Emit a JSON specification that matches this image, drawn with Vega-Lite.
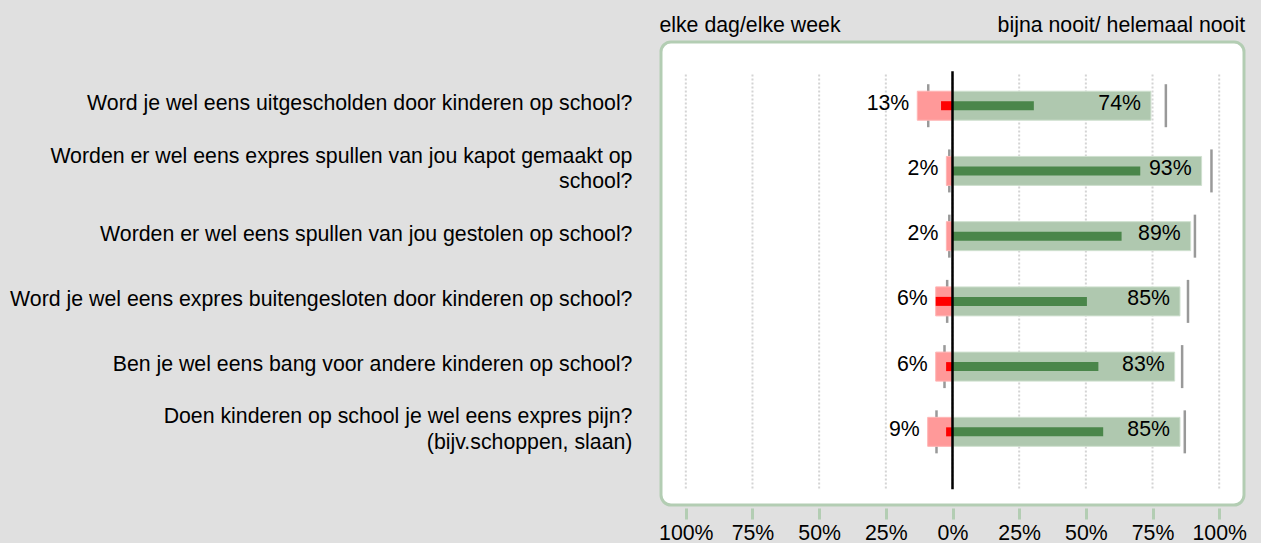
{
  "$schema": "https://vega.github.io/schema/vega-lite/v6.json",
  "autosize": "none",
  "width": 583,
  "height": 463,
  "padding": {"left": 661, "top": 42, "right": 17, "bottom": 38},
  "background": "#e0e0e0",
  "config": {
    "view": {"fill": "white", "stroke": "#b3cdb3", "strokeWidth": 3, "cornerRadius": 10},
    "font": "Liberation Sans",
    "text": {"font": "Liberation Sans", "fontSize": 21.3, "color": "black"},
    "axisY": {"disable": true}
  },
  "datasets": {
    "rows": [
      {"q": "Word je wel eens uitgescholden door kinderen op school?", "row": 1, "neg": -13.2, "pos": 74.4, "red": -4.3, "dark": 30.5, "lt": -9.1, "rt": 80.0, "negLabel": "13%", "posLabel": "74%"},
      {"q": "Worden er wel eens expres spullen van jou kapot gemaakt op\nschool?", "row": 2, "neg": -2.3, "pos": 93.4, "red": 0, "dark": 70.4, "lt": -1.2, "rt": 97.1, "negLabel": "2%", "posLabel": "93%"},
      {"q": "Worden er wel eens spullen van jou gestolen op school?", "row": 3, "neg": -2.3, "pos": 89.3, "red": 0, "dark": 63.4, "lt": -1.2, "rt": 90.9, "negLabel": "2%", "posLabel": "89%"},
      {"q": "Word je wel eens expres buitengesloten door kinderen op school?", "row": 4, "neg": -6.3, "pos": 85.3, "red": -6.3, "dark": 50.4, "lt": -2.0, "rt": 88.3, "negLabel": "6%", "posLabel": "85%"},
      {"q": "Ben je wel eens bang voor andere kinderen op school?", "row": 5, "neg": -6.3, "pos": 83.3, "red": -2.4, "dark": 54.7, "lt": -3.0, "rt": 86.1, "negLabel": "6%", "posLabel": "83%"},
      {"q": "Doen kinderen op school je wel eens expres pijn?\n(bijv.schoppen, slaan)", "row": 6, "neg": -9.3, "pos": 85.3, "red": -2.4, "dark": 56.5, "lt": -6.0, "rt": 87.1, "negLabel": "9%", "posLabel": "85%"}
    ],
    "grid": [{"g": -100}, {"g": -75}, {"g": -50}, {"g": -25}, {"g": 0}, {"g": 25}, {"g": 50}, {"g": 75}, {"g": 100}]
  },
  "layer": [
    {
      "data": {"name": "grid"},
      "mark": {"type": "rule", "color": "#d4d4d4", "strokeWidth": 2, "strokeDash": [2, 2]},
      "encoding": {
        "x": {"field": "g", "type": "quantitative",
              "scale": {"domain": [-109.3, 109.3], "nice": false, "zero": false},
              "axis": {"values": [-100, -75, -50, -25, 0, 25, 50, 75, 100], "title": null, "grid": false, "domain": false,
                       "tickColor": "#b3cdb3", "tickWidth": 3, "tickSize": 11, "offset": 3,
                       "labelFont": "Liberation Sans", "labelFontSize": 21.3, "labelColor": "black", "labelPadding": 3,
                       "labelExpr": "abs(datum.value) + '%'"}},
        "y": {"datum": 0.52, "type": "quantitative",
              "scale": {"domain": [0.1, 7.045], "reverse": true, "nice": false, "zero": false}},
        "y2": {"datum": 6.88}
      }
    },
    {
      "data": {"name": "rows"},
      "mark": {"type": "tick", "orient": "vertical", "color": "#999999", "size": 43, "thickness": 2.5, "opacity": 1},
      "encoding": {
        "x": {"field": "lt", "type": "quantitative", "title": null},
        "y": {"field": "row", "type": "quantitative", "title": null}
      }
    },
    {
      "data": {"name": "rows"},
      "mark": {"type": "tick", "orient": "vertical", "color": "#999999", "size": 43, "thickness": 2.5, "opacity": 1},
      "encoding": {
        "x": {"field": "rt", "type": "quantitative", "title": null},
        "y": {"field": "row", "type": "quantitative", "title": null}
      }
    },
    {
      "data": {"name": "rows"},
      "mark": {"type": "bar", "orient": "horizontal", "color": "#ff9999", "stroke": "#ffb5b5", "strokeWidth": 1, "size": 29},
      "encoding": {
        "x": {"field": "neg", "type": "quantitative", "title": null},
        "x2": {"datum": 0},
        "y": {"field": "row", "type": "quantitative", "title": null}
      }
    },
    {
      "data": {"name": "rows"},
      "mark": {"type": "bar", "orient": "horizontal", "color": "#afc8af", "stroke": "#cfe0cf", "strokeWidth": 1, "size": 29},
      "encoding": {
        "x": {"field": "pos", "type": "quantitative", "title": null},
        "x2": {"datum": 0},
        "y": {"field": "row", "type": "quantitative", "title": null}
      }
    },
    {
      "data": {"name": "rows"},
      "mark": {"type": "bar", "orient": "horizontal", "color": "#ff0000", "size": 9},
      "encoding": {
        "x": {"field": "red", "type": "quantitative", "title": null},
        "x2": {"datum": 0},
        "y": {"field": "row", "type": "quantitative", "title": null}
      }
    },
    {
      "data": {"name": "rows"},
      "mark": {"type": "bar", "orient": "horizontal", "color": "#4a864a", "size": 9},
      "encoding": {
        "x": {"field": "dark", "type": "quantitative", "title": null},
        "x2": {"datum": 0},
        "y": {"field": "row", "type": "quantitative", "title": null}
      }
    },
    {
      "data": {"values": [{"z": 0}]},
      "mark": {"type": "rule", "color": "black", "strokeWidth": 2.5},
      "encoding": {
        "x": {"field": "z", "type": "quantitative", "title": null},
        "y": {"datum": 0.47, "type": "quantitative"},
        "y2": {"datum": 6.88}
      }
    },
    {
      "data": {"name": "rows"},
      "mark": {"type": "text", "align": "right", "baseline": "middle", "dx": -8, "dy": -2},
      "encoding": {
        "x": {"field": "neg", "type": "quantitative", "title": null},
        "y": {"field": "row", "type": "quantitative", "title": null},
        "text": {"field": "negLabel"}
      }
    },
    {
      "data": {"name": "rows"},
      "mark": {"type": "text", "align": "right", "baseline": "middle", "dx": -10, "dy": -2},
      "encoding": {
        "x": {"field": "pos", "type": "quantitative", "title": null},
        "y": {"field": "row", "type": "quantitative", "title": null},
        "text": {"field": "posLabel"}
      }
    },
    {
      "data": {"name": "rows"},
      "transform": [{"filter": "indexof(datum.q, '\\n') < 0"}],
      "mark": {"type": "text", "align": "right", "baseline": "middle", "dy": -1.5},
      "encoding": {
        "x": {"datum": -120, "type": "quantitative"},
        "y": {"field": "row", "type": "quantitative", "title": null},
        "text": {"field": "q"}
      }
    },
    {
      "data": {"name": "rows"},
      "transform": [{"filter": "indexof(datum.q, '\\n') >= 0"}],
      "mark": {"type": "text", "align": "right", "baseline": "middle", "lineBreak": "\n", "lineHeight": 25.7, "dy": -14.4},
      "encoding": {
        "x": {"datum": -120, "type": "quantitative"},
        "y": {"field": "row", "type": "quantitative", "title": null},
        "text": {"field": "q"}
      }
    },
    {
      "data": {"values": [{"t": "elke dag/elke week"}]},
      "mark": {"type": "text", "align": "left", "baseline": "alphabetic"},
      "encoding": {
        "x": {"datum": -109.9, "type": "quantitative"},
        "y": {"datum": -0.13, "type": "quantitative"},
        "text": {"field": "t"}
      }
    },
    {
      "data": {"values": [{"t": "bijna nooit/ helemaal nooit"}]},
      "mark": {"type": "text", "align": "right", "baseline": "alphabetic"},
      "encoding": {
        "x": {"datum": 109.7, "type": "quantitative"},
        "y": {"datum": -0.13, "type": "quantitative"},
        "text": {"field": "t"}
      }
    }
  ]
}
